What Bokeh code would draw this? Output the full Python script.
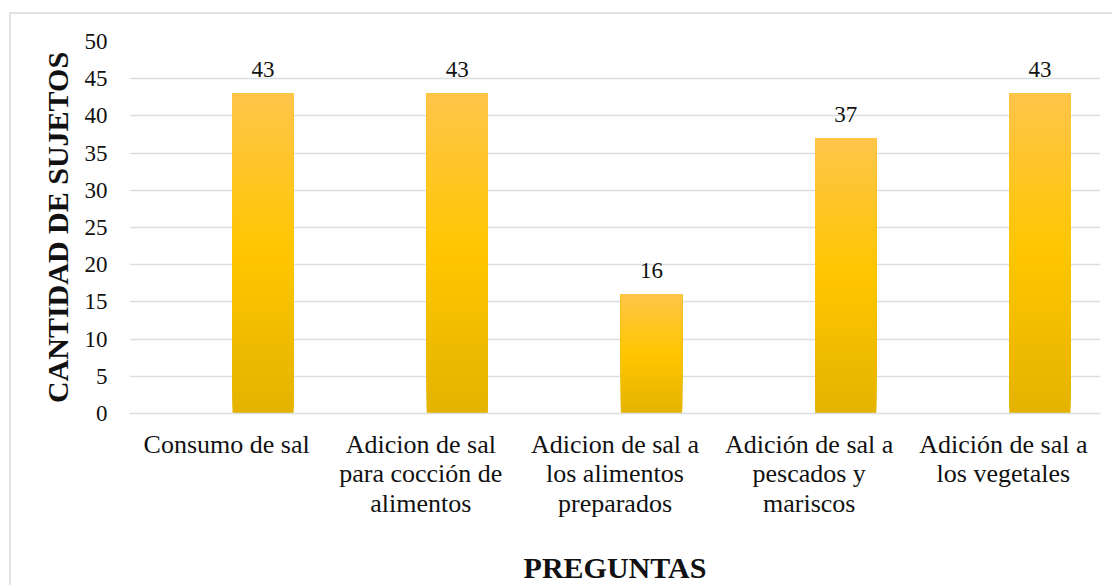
from bokeh.plotting import figure
from bokeh.models import ColumnDataSource, FactorRange, FixedTicker
from bokeh.transform import dodge
from bokeh.core.properties import value
from bokeh.embed import file_html
from bokeh.resources import INLINE

# ---- data ----
categories = [
    "Consumo de sal",
    "Adicion de sal\npara cocción de\nalimentos",
    "Adicion de sal a\nlos alimentos\npreparados",
    "Adición de sal a\npescados y\nmariscos",
    "Adición de sal a\nlos vegetales",
]
values = [43, 43, 16, 37, 43]
y_ticks = [0, 5, 10, 15, 20, 25, 30, 35, 40, 45, 50]
y_title = "CANTIDAD DE SUJETOS"
x_title = "PREGUNTAS"

# ---- style ----
FONT = "Liberation Serif"
TXT = "#111111"
GRID = "#dadde2"
BAR_OFFSET = 0.188
BAR_WIDTH = 0.315
N_SLICES = 60
c_bottom = (228, 179, 0)
c_mid = (255, 198, 0)
c_top = (255, 197, 74)


def grad(t):
    if t < 0.5:
        a, b, u = c_bottom, c_mid, t / 0.5
    else:
        a, b, u = c_mid, c_top, (t - 0.5) / 0.5
    r, g, bb = (round(a[i] + (b[i] - a[i]) * u) for i in range(3))
    return "#%02x%02x%02x" % (r, g, bb)


p = figure(
    x_range=FactorRange(*categories),
    y_range=(0, 50),
    width=1103,
    height=573,
    output_backend="svg",
    toolbar_location=None,
    min_border_left=118,
    min_border_right=14,
    min_border_top=27,
    min_border_bottom=174,
    margin=(12, 0, 0, 9),
)
p.styles = {"border-left": "2px solid #dfe2e7", "border-top": "2px solid #dfe2e7"}
p.outline_line_color = None
p.background_fill_color = "white"
p.border_fill_color = "white"

# gradient bars built from the values: overlapping slices, each reaching the bar top
sx, sb, st, sc = [], [], [], []
for cat, v in zip(categories, values):
    for k in range(N_SLICES):
        sx.append(cat)
        sb.append(v * k / N_SLICES)
        st.append(v)
        sc.append(grad((k + 0.5) / N_SLICES))
slices = ColumnDataSource(dict(x=sx, bottom=sb, top=st, color=sc))
p.vbar(
    x=dodge("x", BAR_OFFSET, range=p.x_range),
    bottom="bottom",
    top="top",
    width=BAR_WIDTH,
    fill_color="color",
    line_color=None,
    source=slices,
)

labels = ColumnDataSource(dict(x=categories, y=values, t=[str(v) for v in values]))
p.text(
    x=dodge("x", BAR_OFFSET, range=p.x_range),
    y="y",
    text="t",
    source=labels,
    text_font=value(FONT),
    text_font_size="23px",
    text_color=TXT,
    text_align="center",
    text_baseline="alphabetic",
    y_offset=-24,
)

# grid
p.xgrid.grid_line_color = None
p.ygrid.grid_line_color = GRID
p.ygrid.grid_line_width = 1.4
p.ygrid.ticker = FixedTicker(ticks=y_ticks)

# y axis
p.yaxis.ticker = FixedTicker(ticks=y_ticks)
p.yaxis.axis_line_color = None
p.yaxis.major_tick_line_color = None
p.yaxis.minor_tick_line_color = None
p.yaxis.major_tick_out = 0
p.yaxis.major_label_standoff = 22
p.yaxis.major_label_text_font = FONT
p.yaxis.major_label_text_font_size = "23px"
p.yaxis.major_label_text_color = TXT
p.yaxis.axis_label = y_title
p.yaxis.axis_label_text_font = FONT
p.yaxis.axis_label_text_font_size = "30px"
p.yaxis.axis_label_text_font_style = "bold"
p.yaxis.axis_label_text_color = TXT
p.yaxis.axis_label_standoff = 8

# x axis
p.xaxis.axis_line_color = GRID
p.xaxis.axis_line_width = 1.6
p.xaxis.major_tick_line_color = None
p.xaxis.minor_tick_line_color = None
p.xaxis.major_tick_out = 0
p.xaxis.major_label_standoff = 16
p.xaxis.major_label_text_font = FONT
p.xaxis.major_label_text_font_size = "26px"
p.xaxis.major_label_text_color = TXT
p.xaxis.major_label_text_line_height = 1.03
p.xaxis.axis_label = x_title
p.xaxis.axis_label_text_font = FONT
p.xaxis.axis_label_text_font_size = "30px"
p.xaxis.axis_label_text_font_style = "bold"
p.xaxis.axis_label_text_color = TXT
p.xaxis.axis_label_standoff = 30

open("out.html", "w").write(file_html(p, INLINE))
